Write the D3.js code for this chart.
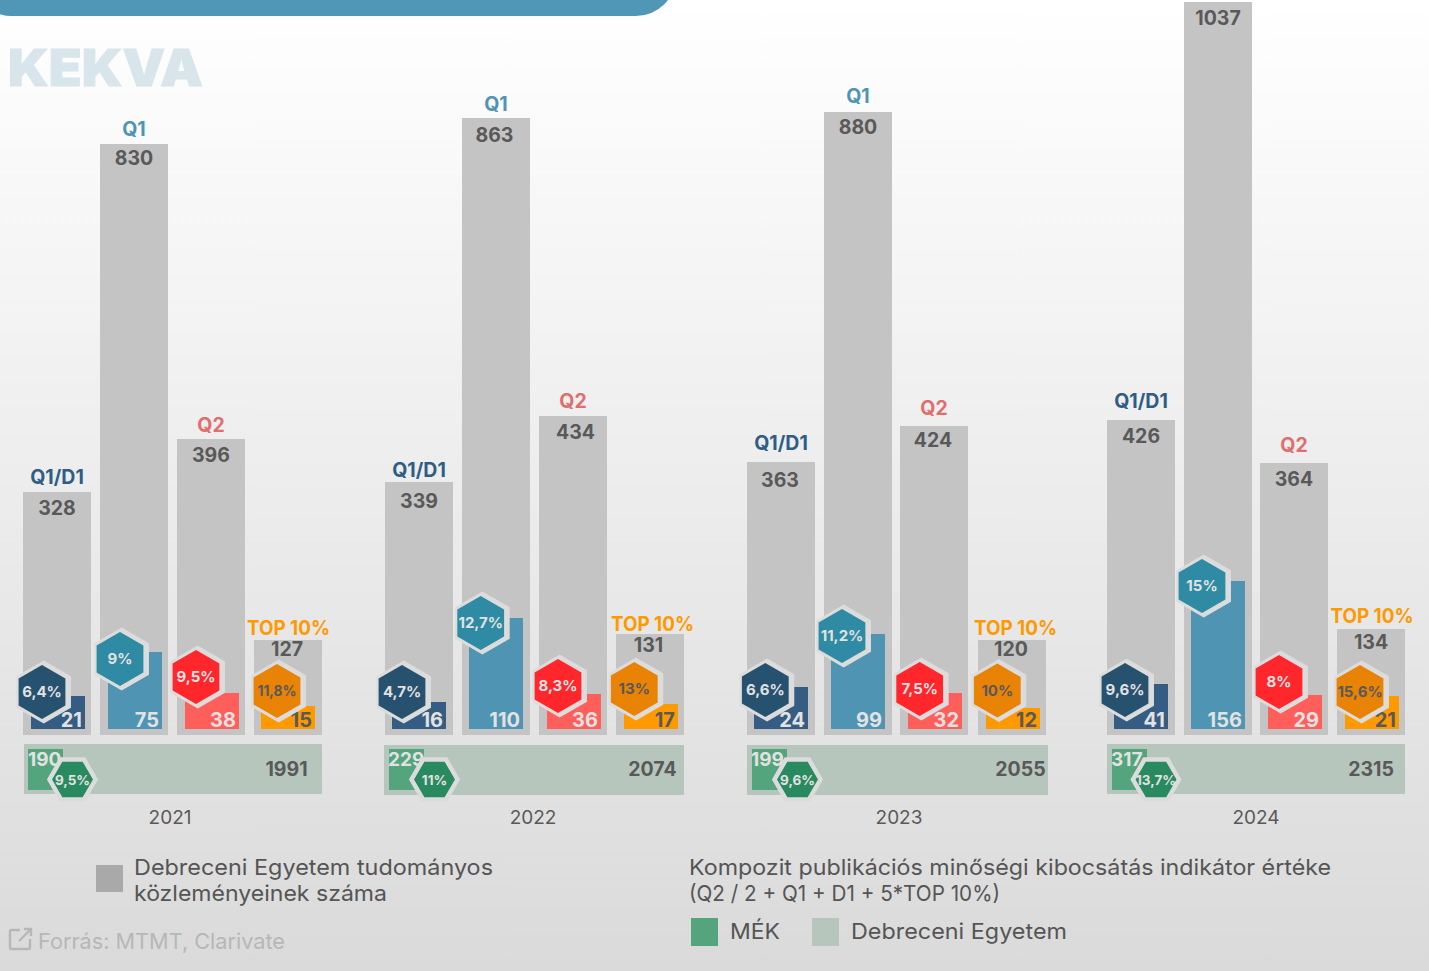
<!DOCTYPE html>
<html><head><meta charset="utf-8">
<script src="https://cdn.jsdelivr.net/npm/d3@7/dist/d3.min.js"></script>
<style>html,body{margin:0;padding:0;overflow:hidden;background:#fff}svg{display:block;font-family:Inter,"Open Sans",sans-serif}</style>
</head><body><svg id="c" width="1429" height="971"></svg>
<script>
// ---------- data ----------
const years = ["2021","2022","2023","2024"];
const categories = ["Q1/D1","Q1","Q2","TOP 10%"];
const totalQ1D1 = [328,339,363,426];
const totalQ1   = [830,863,880,1037];
const totalQ2   = [396,434,424,364];
const totalTop  = [127,131,120,134];
const mekQ1D1 = [21,16,24,41];
const mekQ1   = [75,110,99,156];
const mekQ2   = [38,36,32,29];
const mekTop  = [15,17,12,21];
const pctQ1D1 = ["6,4%","4,7%","6,6%","9,6%"];
const pctQ1   = ["9%","12,7%","11,2%","15%"];
const pctQ2   = ["9,5%","8,3%","7,5%","8%"];
const pctTop  = ["11,8%","13%","10%","15,6%"];
const indexDE  = [1991,2074,2055,2315];
const indexMEK = [190,229,199,317];
const indexPct = ["9,5%","11%","9,6%","13,7%"];

// ---------- scales ----------
const W=1429,H=971, baseGrey=735, baseMek=729;
const groupX = d3.scaleOrdinal(years,[23,385,747,1107]);
const barOffset = {
  "2021":d3.scaleOrdinal(categories,[0,77,154,231]),
  "2022":d3.scaleOrdinal(categories,[0,77,154,231]),
  "2023":d3.scaleOrdinal(categories,[0,77,153,231]),
  "2024":d3.scaleOrdinal(categories,[0,77,153,230])};
const innerOffset = {
  "2021":d3.scaleOrdinal(categories,[8,85,162,238]),
  "2022":d3.scaleOrdinal(categories,[7,84,162,239]),
  "2023":d3.scaleOrdinal(categories,[7,84,161,239]),
  "2024":d3.scaleOrdinal(categories,[7,84,161,238])};
const hexOffset = {
  "2021":d3.scaleOrdinal(categories,[19,20,19,23]),
  "2022":d3.scaleOrdinal(categories,[17,18.7,19,18.3]),
  "2023":d3.scaleOrdinal(categories,[18.3,18,19.7,19.3]),
  "2024":d3.scaleOrdinal(categories,[18,18,19,23])};
const greyDomain=[0,120,127,131,134,328,339,363,364,396,424,426,434,830,863,880,1037];
const greyH   = d3.scaleLinear(greyDomain,[0,95,95,101,106,243,253,273,272,296,309,315,319,591,617,623,733]);
const labelDy = d3.scaleLinear(greyDomain,[-12,-12,-12,-10,-13,-15,-12,-19,-18,-14,-18,-19,-15,-15,-14,-16,-15]);
const valueDy = d3.scaleLinear(greyDomain,[9,9,9,11,13,16,19,18,16,16,14,16,16,14,17,15,16]);
const valueDx = d3.scaleLinear(greyDomain,[0,-1,-1,-1.5,0,0,0,-1,0,0,-1,0,2.5,0,-1.5,0,0]);
const mekDomain=[0,12,15,16,17,21,24,29,32,36,38,41,75,99,110,156];
const mekH = d3.scaleLinear(mekDomain,[0,21,23,27,25,33,42,34,36,35,36,45,77,95,111,148]);
const hexY = d3.scaleLinear(mekDomain,[700,690.5,691,692,689,692,690,682,689,686,677,690,659,636,623,586]);
const topNudge = d3.scaleOrdinal(years,[0.5,2.5,3.5,1]);
const bandW = d3.scaleLinear([1991,2055,2074,2315],[298,301,300,298]);
const bandTxt = d3.scaleLinear([1991,2055,2074,2315],[262.5,273.5,268.5,264]);
const bandInnerW = d3.scaleLinear([190,317],[35,35]);
const bandX = d3.scaleOrdinal(years,[24,384,747,1107]);
const bandY = d3.scaleOrdinal(years,[744,745,745,744]);
const hexBandX = d3.scaleOrdinal(years,[48.5,50.5,50.5,49]);
const yearAxisScale = d3.scaleOrdinal(years,[169.5,532.5,898.5,1255.5]);

const colBar = d3.scaleOrdinal(categories,["#355c82","#4f94b3","#ff5f5a","#ff9900"]);
const colHex = d3.scaleOrdinal(categories,["#26516f","#2e8ba3","#ff262c","#e98305"]);
const colLabel = d3.scaleOrdinal(categories,["#2f5d85","#4f94b3","#e26d6d","#ff9900"]);
const TXT="#595959", LIGHT="#e2e2e2", RING="#dcdcdc";

const svg=d3.select("#c");
const defs=svg.append("defs");
const g=defs.append("linearGradient").attr("id","bg").attr("x1",0).attr("y1",0).attr("x2",0).attr("y2",1);
g.append("stop").attr("offset","0").attr("stop-color","#ffffff");
g.append("stop").attr("offset","1").attr("stop-color","#dadada");
svg.append("rect").attr("width",W).attr("height",H).attr("fill","url(#bg)");
svg.append("rect").attr("x",-28).attr("y",-100).attr("width",704).attr("height",116).attr("rx",40).attr("ry",40).attr("fill","#5096b7");

function text(sel,s,x,y,o={}){
  const t=sel.append("text").text(s).attr("x",x).attr("y",y)
    .attr("font-size",o.size||20).attr("font-weight",o.w||700).attr("fill",o.fill||TXT)
    .attr("text-anchor",o.anchor||"middle");
  if(o.len){t.attr("textLength",o.len).attr("lengthAdjust","spacingAndGlyphs");}
  return t;
}
text(svg,"KEKVA",8,86,{size:51,w:900,fill:"#d8e6ec",anchor:"start",len:195}).attr("stroke","#d8e6ec").attr("stroke-width",1);

const hexLine=d3.line().curve(d3.curveLinearClosed);
const pointyHex=r=>d3.range(6).map(i=>[r*Math.sin(i*Math.PI/3),-r*Math.cos(i*Math.PI/3)]);
const flatHex=r=>d3.range(6).map(i=>[r*Math.cos(i*Math.PI/3),r*Math.sin(i*Math.PI/3)]);

const totals=[totalQ1D1,totalQ1,totalQ2,totalTop], meks=[mekQ1D1,mekQ1,mekQ2,mekTop], pcts=[pctQ1D1,pctQ1,pctQ2,pctTop];
const marks=[];
years.forEach((y,yi)=>categories.forEach((c,ci)=>marks.push({y,c,yi,ci,total:totals[ci][yi],mek:meks[ci][yi],pct:pcts[ci][yi]})));

const layer=svg.append("g");
const barLeft=d=>groupX(d.y)+barOffset[d.y](d.c), innerLeft=d=>groupX(d.y)+innerOffset[d.y](d.c);
layer.selectAll("rect.grey").data(marks).join("rect").attr("class","grey")
  .attr("x",barLeft).attr("width",68)
  .attr("y",d=>baseGrey-greyH(d.total)).attr("height",d=>greyH(d.total)).attr("fill","#c4c4c4");
layer.selectAll("rect.mek").data(marks).join("rect").attr("class","mek")
  .attr("x",innerLeft).attr("width",54)
  .attr("y",d=>baseMek-mekH(d.mek)).attr("height",d=>mekH(d.mek)).attr("fill",d=>colBar(d.c));
marks.forEach(d=>{
  const cx=barLeft(d)+34, top=baseGrey-greyH(d.total);
  const labelCy=top+labelDy(d.total);
  if(labelCy>0){ // the 2024 Q1 label falls above the picture, as in the reference
    if(d.ci===3) text(layer,d.c,cx+topNudge(d.y),labelCy+7,{fill:colLabel(d.c),size:19.5,len:83});
    else text(layer,d.c,cx,labelCy+7,{fill:colLabel(d.c),size:19.5});
  }
  text(layer,d.total,cx+valueDx(d.total),top+valueDy(d.total)+7,{size:19.5});
  text(layer,d.mek,innerLeft(d)+51,727,{size:20,anchor:"end",fill:d.ci===3?TXT:LIGHT});
});
marks.forEach(d=>{
  const cx=barLeft(d)+hexOffset[d.y](d.c), cy=hexY(d.mek);
  const h=layer.append("g").attr("transform",`translate(${cx},${cy})`);
  h.append("path").attr("d",hexLine(pointyHex(31.5))).attr("transform","translate(1.7,0)").attr("fill",RING);
  h.append("path").attr("d",hexLine(pointyHex(27))).attr("fill",colHex(d.c));
  text(h,d.pct,0,5,{size:15,fill:d.ci===3?TXT:LIGHT,len:d.pct==="11,8%"?39:null});
});
years.forEach((y,i)=>{
  const x=bandX(y), by=bandY(y);
  layer.append("rect").attr("x",x).attr("y",by).attr("width",bandW(indexDE[i])).attr("height",50).attr("fill","#b6c6bc");
  layer.append("rect").attr("x",x+4+(i?1:0)).attr("y",749).attr("width",bandInnerW(indexMEK[i])).attr("height",41).attr("fill","#54a57d");
  text(layer,indexMEK[i],x+4,766,{size:19,anchor:"start",fill:LIGHT});
  text(layer,indexDE[i],x+bandTxt(indexDE[i]),776,{size:19.5});
  const h=layer.append("g").attr("transform",`translate(${x+hexBandX(y)},779.5)`);
  h.append("path").attr("d",hexLine(flatHex(23))).attr("fill","#298a60").attr("stroke",RING).attr("stroke-width",4.5);
  text(h,indexPct[i],0,5,{size:13.5,fill:LIGHT});
});
const axis=svg.append("g").attr("transform","translate(0,810)").call(d3.axisBottom(yearAxisScale).tickSize(0).tickPadding(0));
axis.select(".domain").remove();
axis.selectAll("text").attr("font-size",19).attr("font-family","Inter").attr("fill",TXT).attr("font-weight",400);

const lt={size:22,w:400,anchor:"start",fill:"#555555"};
svg.append("rect").attr("x",96).attr("y",865).attr("width",27).attr("height",27).attr("fill","#a9a9a9");
text(svg,"Debreceni Egyetem tudományos",134,875,{...lt,len:359});
text(svg,"közleményeinek száma",134,901,{...lt,len:253});
text(svg,"Kompozit publikációs minőségi kibocsátás indikátor értéke",689,875,{...lt,len:642});
text(svg,"(Q2 / 2 + Q1 + D1 + 5*TOP 10%)",689,901,{...lt,len:311});
svg.append("rect").attr("x",691).attr("y",918).attr("width",27).attr("height",28).attr("fill","#54a57d");
text(svg,"MÉK",730,939,{...lt,len:50});
svg.append("rect").attr("x",812).attr("y",918).attr("width",27).attr("height",28).attr("fill","#b6c6bc");
text(svg,"Debreceni Egyetem",851,939,{...lt,len:216});
text(svg,"Forrás: MTMT, Clarivate",38,949,{...lt,fill:"#b7b7b7",len:247});
svg.append("path").attr("d","M20 930H11.5Q10 930 10 931.5V947.5Q10 949 11.5 949H28.5Q30 949 30 947.5V939M24 929H31V936M31 929L19 941")
  .attr("fill","none").attr("stroke","#b7b7b7").attr("stroke-width",2.4);
</script></body></html>
